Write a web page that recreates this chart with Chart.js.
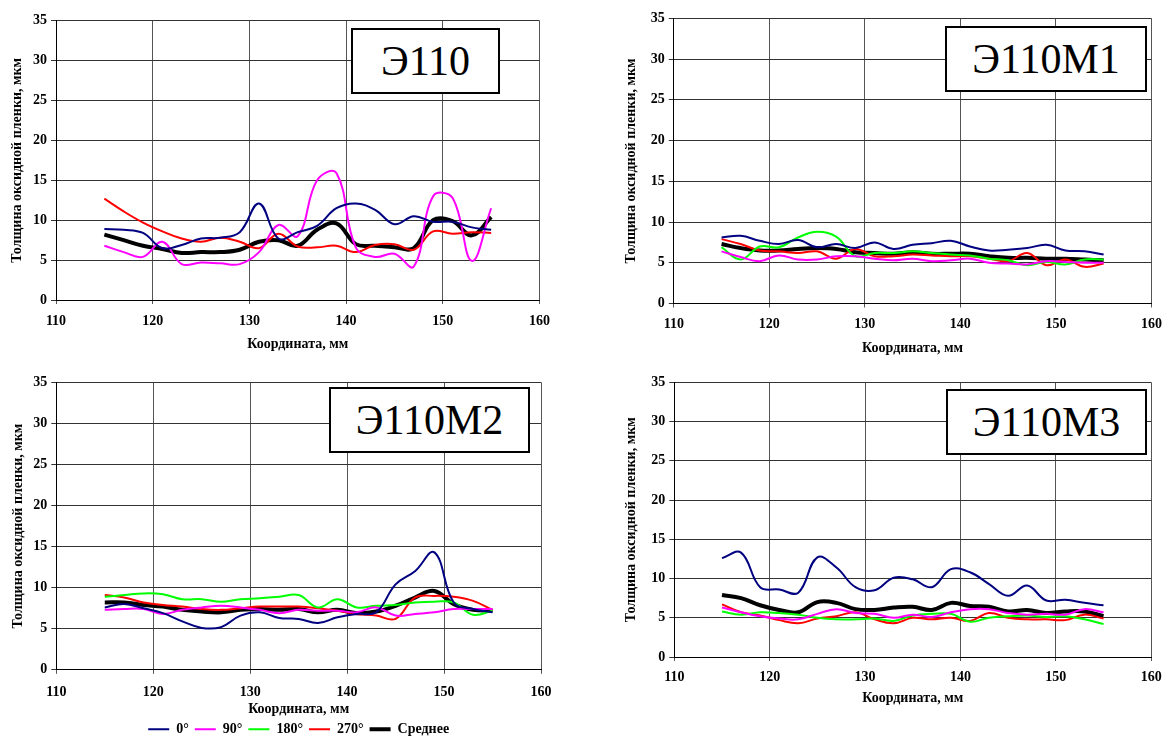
<!DOCTYPE html>
<html>
<head>
<meta charset="utf-8">
<script src="https://cdn.jsdelivr.net/npm/chart.js@4.4.1/dist/chart.umd.min.js"></script>
<style>
  html, body { margin: 0; padding: 0; background: #fff; overflow: hidden; }
  body { width: 1170px; height: 738px; position: relative; }
  canvas { position: absolute; }
  .tag {
    position: absolute; box-sizing: border-box; background: #fff;
    border: 2px solid #000; font-family: "Liberation Serif", "Times New Roman", serif;
    font-size: 42px; line-height: 62px; text-align: center; color: #000;
  }
</style>
</head>
<body>
<canvas id="c1" width="570" height="370" style="left:0;top:0"></canvas>
<canvas id="c2" width="570" height="370" style="left:600px;top:0"></canvas>
<canvas id="c3" width="570" height="400" style="left:0;top:370px"></canvas>
<canvas id="c4" width="570" height="370" style="left:600px;top:370px"></canvas>
<div class="tag" style="left:351px;top:28px;width:149px;height:66px">Э110</div>
<div class="tag" style="left:945px;top:26px;width:202px;height:66px">Э110М1</div>
<div class="tag" style="left:329px;top:387px;width:201px;height:66px">Э110М2</div>
<div class="tag" style="left:946px;top:389px;width:201px;height:66px">Э110М3</div>
<script>
// координаты точек, мм
const coords = [115, 117, 119, 121, 123, 125, 127, 129, 131, 133, 135, 137, 139, 141, 143, 145, 147, 149, 151, 153, 155];
const xTicks = [110, 120, 130, 140, 150, 160];
const yTicks = [0, 5, 10, 15, 20, 25, 30, 35];
const seriesNames = ['0°', '90°', '180°', '270°', 'Среднее'];

// Э110 (нет 180°)
const e110_0   = [8.9, 8.8, 8.4, 6.5, 6.9, 7.7, 7.8, 8.5, 12.1, 7.7, 8.5, 9.3, 11.5, 12.1, 11.3, 9.5, 10.5, 9.8, 9.8, 9.1, 8.8];
const e110_90  = [6.8, 6.0, 5.4, 7.3, 4.5, 4.7, 4.6, 4.5, 6.0, 9.4, 8.0, 15.0, 15.9, 6.6, 5.4, 5.8, 4.2, 13.0, 12.8, 4.9, 11.5];
const e110_270 = [12.7, 11.1, 9.7, 8.6, 7.7, 7.3, 7.8, 7.3, 6.5, 8.3, 6.7, 6.6, 6.8, 6.0, 6.9, 7.0, 6.3, 8.6, 8.3, 8.5, 8.4];
const e110_avg = [8.2, 7.5, 6.8, 6.4, 5.9, 6.0, 6.0, 6.3, 7.3, 7.5, 6.8, 8.8, 9.6, 7.0, 6.8, 6.6, 6.5, 10.0, 9.9, 8.1, 10.4];

// Э110М1
const m1_0   = [8.1, 8.3, 7.7, 7.3, 7.8, 6.9, 7.3, 6.8, 7.5, 6.7, 7.2, 7.4, 7.7, 7.0, 6.5, 6.6, 6.8, 7.2, 6.5, 6.4, 6.0];
const m1_90  = [6.4, 5.7, 5.2, 5.9, 5.4, 5.4, 5.8, 5.8, 5.5, 5.3, 5.5, 5.2, 5.3, 5.5, 5.0, 4.9, 4.8, 5.2, 5.1, 5.0, 5.0];
const m1_180 = [6.9, 5.4, 7.0, 6.9, 8.1, 8.8, 8.2, 5.8, 6.2, 6.2, 6.4, 6.2, 6.0, 5.9, 5.5, 5.3, 4.7, 5.1, 4.8, 5.4, 5.4];
const m1_270 = [7.9, 7.3, 6.5, 6.4, 6.2, 6.4, 5.5, 6.7, 5.8, 5.8, 6.0, 5.9, 5.8, 5.8, 5.5, 5.2, 6.2, 4.7, 5.4, 4.5, 4.9];
const m1_avg = [7.3, 6.8, 6.5, 6.5, 6.7, 6.8, 6.7, 6.3, 6.2, 6.1, 6.3, 6.1, 6.1, 6.1, 5.8, 5.6, 5.6, 5.5, 5.5, 5.4, 5.3];

// Э110М2
const m2_0   = [7.6, 8.0, 7.5, 6.9, 5.9, 5.1, 5.2, 6.6, 7.0, 6.3, 6.2, 5.7, 6.4, 6.8, 7.0, 10.4, 12.0, 14.3, 8.2, 7.4, 7.0];
const m2_90  = [7.3, 7.4, 7.4, 6.8, 7.3, 7.6, 7.8, 7.6, 7.3, 6.9, 7.3, 7.2, 7.2, 7.0, 7.6, 6.6, 6.8, 7.0, 7.4, 7.4, 7.4];
const m2_180 = [8.9, 9.1, 9.3, 9.2, 8.6, 8.6, 8.3, 8.6, 8.7, 8.9, 9.1, 7.6, 8.6, 7.6, 7.8, 7.9, 8.2, 8.3, 8.2, 6.7, 7.2];
const m2_270 = [9.1, 8.8, 8.2, 7.9, 7.7, 7.4, 7.3, 7.5, 7.7, 7.7, 7.7, 7.5, 7.2, 6.8, 6.6, 6.2, 8.8, 9.0, 8.9, 8.4, 7.3];
const m2_avg = [8.2, 8.2, 7.9, 7.7, 7.3, 7.1, 7.0, 7.3, 7.4, 7.3, 7.4, 7.0, 7.3, 6.9, 7.1, 7.8, 8.8, 9.6, 8.0, 7.3, 7.2];

// Э110М3
const m3_0   = [12.6, 13.3, 8.9, 8.6, 8.2, 12.7, 11.4, 8.9, 8.5, 10.1, 9.9, 8.9, 11.2, 10.8, 9.3, 7.8, 9.1, 7.2, 7.3, 6.9, 6.6];
const m3_90  = [6.3, 5.7, 5.2, 4.9, 4.8, 5.5, 6.1, 5.6, 5.5, 5.0, 5.4, 5.1, 5.7, 6.1, 6.1, 5.6, 5.4, 5.5, 5.4, 6.1, 5.7];
const m3_180 = [5.8, 5.4, 5.7, 5.6, 5.4, 5.0, 4.8, 4.8, 4.9, 4.6, 5.3, 5.5, 5.5, 4.5, 5.0, 5.2, 5.3, 5.1, 5.2, 4.8, 4.2];
const m3_270 = [6.7, 5.7, 5.3, 4.7, 4.3, 4.9, 5.2, 5.7, 4.8, 4.3, 5.0, 4.8, 5.0, 4.6, 5.6, 5.0, 4.8, 4.8, 4.7, 5.4, 4.9];
const m3_avg = [7.9, 7.5, 6.6, 6.0, 5.7, 7.0, 6.9, 6.1, 6.0, 6.3, 6.4, 6.0, 6.9, 6.5, 6.4, 5.8, 6.0, 5.6, 5.8, 5.8, 5.2];

const FONT = '"Liberation Serif", "Times New Roman", serif';
const FS = 14;
const colors = ['#000080', '#FF00FF', '#00FF00', '#FF0000', '#000000'];

function toPoints(values) {
    return values.map((v, i) => ({ x: coords[i], y: v }));
}

function makeDatasets(list) {
    // list: [значения или null] в порядке 0°, 90°, 180°, 270°, среднее
    const ds = [];
    list.forEach((values, i) => {
        if (!values) return;
        ds.push({
            label: seriesNames[i],
            data: toPoints(values),
            borderColor: colors[i],
            backgroundColor: colors[i],
            borderWidth: i === 4 ? 4 : 2,
            pointRadius: 0,
            tension: 0.4,
            fill: false
        });
    });
    return ds;
}

// geo: положение холста и области графика в координатах страницы
function makePanel(id, geo, datasets, withLegend) {
    const half = FS / 2;
    const areaTop = geo.area.t - geo.top;
    const areaBottom = geo.area.b - geo.top;
    const yWidth = geo.area.l - geo.left;
    const xHeight = (geo.xTitleY - geo.top) + half - areaBottom;
    let legendPad = 0, legendH = 0;
    if (withLegend) {
        legendPad = (geo.legendY - geo.top) - (areaBottom + xHeight) - half;
        legendH = FS + legendPad + 10;
    }
    const padBottom = geo.h - areaBottom - xHeight - legendH;

    new Chart(document.getElementById(id), {
        type: 'line',
        data: { datasets },
        options: {
            responsive: false,
            animation: false,
            events: [],
            layout: {
                padding: { left: 0, top: areaTop, right: geo.left + geo.w - geo.area.r, bottom: padBottom }
            },
            plugins: {
                tooltip: { enabled: false },
                legend: {
                    display: withLegend,
                    position: 'bottom',
                    fullSize: false,
                    labels: {
                        usePointStyle: true,
                        pointStyle: 'line',
                        pointStyleWidth: 21,
                        padding: legendPad,
                        color: '#000',
                        font: { family: FONT, size: FS, weight: 'bold' }
                    }
                }
            },
            scales: {
                x: {
                    type: 'linear',
                    min: 110, max: 160,
                    afterBuildTicks: s => { s.ticks = xTicks.map(v => ({ value: v })); },
                    afterFit: s => { s.height = xHeight; },
                    grid: { color: '#555', tickLength: 4 },
                    border: { color: '#000', width: 1 },
                    ticks: {
                        padding: geo.xTickY - geo.area.b - 4 - FS * 0.55,
                        maxRotation: 0,
                        color: '#000',
                        font: { family: FONT, size: FS, weight: 'bold' }
                    },
                    title: {
                        display: true,
                        text: 'Координата, мм',
                        color: '#000',
                        padding: 0,
                        font: { family: FONT, size: FS, weight: 'bold', lineHeight: 1 }
                    }
                },
                y: {
                    min: 0, max: 35,
                    afterBuildTicks: s => { s.ticks = yTicks.map(v => ({ value: v })); },
                    afterFit: s => { s.width = yWidth; },
                    grid: { color: '#333', tickLength: 5 },
                    border: { color: '#000', width: 1 },
                    ticks: {
                        padding: 4,
                        color: '#000',
                        font: { family: FONT, size: FS, weight: 'bold' }
                    },
                    title: {
                        display: true,
                        text: 'Толщина оксидной пленки, мкм',
                        color: '#000',
                        padding: { top: geo.yTitleX - geo.left - half, bottom: 0 },
                        font: { family: FONT, size: FS, weight: 'bold', lineHeight: 1 }
                    }
                }
            }
        }
    });
}

makePanel('c1', { left: 0, top: 0, w: 570, h: 370,
    area: { l: 56, r: 539.5, t: 20.7, b: 300 }, yTitleX: 17.5, xTickY: 320.7, xTitleY: 344 },
    makeDatasets([e110_0, e110_90, null, e110_270, e110_avg]), false);

makePanel('c2', { left: 600, top: 0, w: 570, h: 370,
    area: { l: 673.8, r: 1157.7, t: 18.3, b: 303.5 }, yTitleX: 631, xTickY: 323.3, xTitleY: 348.3 },
    makeDatasets([m1_0, m1_90, m1_180, m1_270, m1_avg]), false);

makePanel('c3', { left: 0, top: 370, w: 570, h: 400,
    area: { l: 56.3, r: 541, t: 379.3, b: 669.8 }, yTitleX: 17.9, xTickY: 691.7, xTitleY: 709.3, legendY: 729.3 },
    makeDatasets([m2_0, m2_90, m2_180, m2_270, m2_avg]), true);

makePanel('c4', { left: 600, top: 370, w: 570, h: 370,
    area: { l: 674.3, r: 1157.7, t: 379.3, b: 657 }, yTitleX: 631, xTickY: 677, xTitleY: 698 },
    makeDatasets([m3_0, m3_90, m3_180, m3_270, m3_avg]), false);
</script>
</body>
</html>
